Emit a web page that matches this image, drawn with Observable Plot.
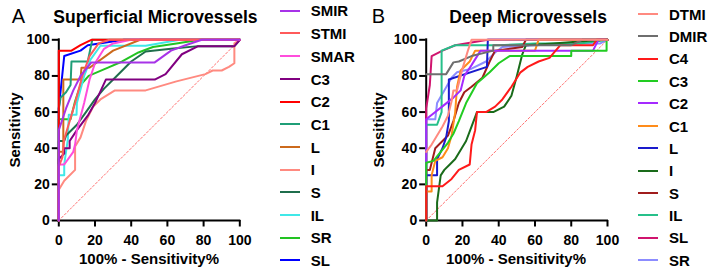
<!DOCTYPE html>
<html><head><meta charset="utf-8">
<script src="https://cdn.jsdelivr.net/npm/d3@7"></script>
<script src="https://cdn.jsdelivr.net/npm/@observablehq/plot@0.6"></script>
<style>
body{margin:0;background:#fff;font-family:"Liberation Sans",Arial,sans-serif;color:#000;}
#root{position:relative;width:708px;height:273px;overflow:hidden;background:#fff;}
.abs{position:absolute;white-space:nowrap;line-height:1;}
.letter{font-size:20px;}
.title{font-size:17.5px;font-weight:bold;}
.xlab{font-size:15px;font-weight:bold;transform:translateX(-50%);}
.ylab{font-size:15px;font-weight:bold;transform:translate(-50%,-50%) rotate(-90deg);}
.leg{font-size:15px;font-weight:bold;}
.legline{position:absolute;height:2px;width:20px;}
.panel{position:absolute;top:0;}
</style>
</head><body>
<div id="root"></div>
<script>
// ---------- tick labels ----------
const xTicks = [0, 20, 40, 60, 80, 100];
const yTicks = [0, 20, 40, 60, 80, 100];
const diagonal = [[0, 0], [100, 100]];

// ---------- Panel A: Superficial Microvessels ----------
const legendA = ["SMIR", "STMI", "SMAR", "C3", "C2", "C1", "L", "I", "S", "IL", "SR", "SL"];
const colorsA = ["#a733e8", "#ff5a5a", "#ff4ddc", "#800080", "#ff0000", "#1f9e77", "#cc6a1c", "#ff8a80", "#1f6e4c", "#40e8e8", "#22c322", "#0000ff"];
const A_SMIR = [[0,0],[0,50],[4,62],[8,72],[12,80],[18,87.5],[53,87.5],[62,94],[70,97],[79,100],[100,100]];
const A_STMI = [[0,0],[0,30],[2,35],[3,45],[6,55],[9,65],[13,80],[17,91],[22,98],[28,100],[100,100]];
const A_SMAR = [[0,0],[0,31],[3,31],[8,38],[9,42],[10,50],[14,65],[17,78],[20,87],[25,95],[30,98],[40,100],[100,100]];
const A_C3 = [[0,0],[0,34],[3,37],[3,40],[6,40],[6,44],[10,50],[16,58],[20,65],[26,78],[53,78],[59,81],[68,92],[77,96.5],[97,96.5],[100,100]];
const A_C2 = [[0,0],[0,94],[7,94],[12,97],[18,100],[100,100]];
const A_C1 = [[0,0],[0,62],[1,68],[4,71],[6.5,75],[7,88],[16,88],[18.5,100],[100,100]];
const A_L = [[0,0],[0,38],[2.5,38],[2.5,78],[12,78],[12.5,84.5],[17,84.5],[30,94],[45,100],[100,100]];
const A_I = [[0,0],[0,17],[3,22],[9,28],[9,41],[12,46],[15,55],[19,63],[23,67],[31,72],[48,72],[65,77],[81,81],[85,83],[90,83],[94,85],[97,87],[97,98],[100,100]];
const A_S = [[0,0],[0,44],[3,44],[4,47],[10,53],[15,60],[20,67],[25,73],[32,80],[40,88],[48,93.5],[62,95],[77,96.5],[97,96.5],[100,100]];
const A_IL = [[0,0],[0,25],[3,25],[3,31],[5,45],[5.5,58.5],[9.8,58.5],[10,65],[14,80],[17.5,89],[23,96.7],[48,96.7],[67,100],[100,100]];
const A_SR = [[0,0],[0,56],[6.5,56],[9,66],[12,75],[16.5,80],[27.5,84.7],[35,88],[44,93],[52,96],[65,98],[78,100],[100,100]];
const A_SL = [[0,0],[0,62],[3,91],[12,94],[16,97],[36,100],[100,100]];
const seriesA = [A_SMIR, A_STMI, A_SMAR, A_C3, A_C2, A_C1, A_L, A_I, A_S, A_IL, A_SR, A_SL];

// ---------- Panel B: Deep Microvessels ----------
const legendB = ["DTMI", "DMIR", "C4", "C3", "C2", "C1", "L", "I", "S", "IL", "SL", "SR"];
const colorsB = ["#ff8a80", "#6e6e6e", "#ff1a1a", "#22cc22", "#a52aff", "#ff8c1a", "#1a1acc", "#1a6b1a", "#a01c1c", "#26c08a", "#d0146e", "#8c8cff"];
const B_DTMI = [[0,38],[3,42],[6,47],[9,52],[12,58],[14,66],[15,72],[17,72],[20,84],[23,94],[25,100],[100,100]];
const B_DMIR = [[0,81],[11,81],[15,87.5],[18,88],[25,91],[37,94],[37,97],[80,97],[86,100],[100,100]];
const B_C4 = [[0,0],[0,19],[9,19],[14,23],[18,28],[24,31],[25,42],[27,50],[28,60],[33,60],[38,63],[42,67],[47,74],[52,82],[56,85],[62,88],[68,90],[74,97],[92,97],[94,100],[100,100]];
const B_C3 = [[0,0],[0,32],[4,33],[8,38],[12,43],[15,48],[18,55],[22,65],[28,76],[35,82],[40,87],[46,91],[80,91],[80,94],[99.5,94],[99.5,100],[100,100]];
const B_C2 = [[0,0],[0,56],[5,60],[10,64],[15,68],[19,72],[21,80],[25,86],[30,94],[92,94],[95,100],[100,100]];
const B_C1 = [[0,0],[0,16],[3,16],[3,25],[5,33],[9,35],[12,40],[14,47],[16,60],[17,74],[19,83],[24,88],[27,94],[60,94],[62,100],[100,100]];
const B_L = [[0,0],[0,25],[6,25],[6,34],[9,40],[11,46],[12.5,55],[12.5,78],[33.5,85],[34,100],[100,100]];
const B_I = [[0,0],[6,0],[6,10],[8,25],[10,28],[13,31],[16,34],[19,39],[22,44],[25,52],[28,60],[37,60],[43,63],[47,69],[50,80],[53,92],[55,97],[70,98],[90,99.5],[100,100]];
const B_S = [[0,0],[0,28],[2,28],[5,40],[9,44],[12,47],[15,55],[18,65],[21,71],[25,74],[31,79],[35,88],[38,94],[53,96],[55,100],[100,100]];
const B_IL = [[0,0],[0,53],[6,53],[8.5,60],[8.5,94],[16,97],[40,97],[60,98],[85,98],[100,100]];
const B_SL = [[0,0],[0,62],[2,75],[3,91],[9,94],[16,97],[34,100],[100,100]];
const B_SR = [[0,0],[0,56],[5,56],[6,65],[10,72],[14,79],[17,82],[25,84],[33,88],[38,93],[42,96],[60,97],[80,98],[96,98],[100,100]];
const seriesB = [B_DTMI, B_DMIR, B_C4, B_C3, B_C2, B_C1, B_L, B_I, B_S, B_IL, B_SL, B_SR];

const root = document.getElementById("root");
function addText(cls, text, left, top) {
  const d = document.createElement("div");
  d.className = "abs " + cls;
  d.textContent = text;
  d.style.left = left + "px";
  d.style.top = top + "px";
  root.appendChild(d);
  return d;
}

function makePanel(cfg) {
  const marks = [
    Plot.ruleX([0], {stroke: "#000", strokeWidth: 2, strokeLinecap: "square"}),
    Plot.ruleY([0], {stroke: "#000", strokeWidth: 2, strokeLinecap: "square"}),
    Plot.axisX({ticks: xTicks, tickSize: 6.5, tickPadding: 8, strokeWidth: 2, fontSize: 14, fontWeight: "bold", label: null}),
    Plot.axisY({ticks: yTicks, tickSize: 6.5, tickPadding: 2.5, strokeWidth: 2, fontSize: 14, fontWeight: "bold", label: null}),
    Plot.line(diagonal, {x: d => d[0], y: d => d[1], stroke: "#ff4d4d", strokeWidth: 0.8, strokeDasharray: "2,2"})
  ];
  // first legend entry drawn last (on top)
  for (let i = cfg.series.length - 1; i >= 0; i--) {
    marks.push(Plot.line(cfg.series[i], {x: d => d[0], y: d => d[1], stroke: cfg.colors[i], strokeWidth: 2, strokeLinejoin: "round"}));
  }
  const svg = Plot.plot({
    width: cfg.width, height: 273,
    marginLeft: cfg.ml, marginRight: cfg.mr, marginTop: 39.3, marginBottom: 53,
    x: {domain: [0, 100], label: null},
    y: {domain: [0, 100], label: null},
    style: {fontFamily: "'Liberation Sans', Arial, sans-serif", fontSize: "14px", fontWeight: "bold", color: "#000", background: "transparent", overflow: "visible"},
    marks
  });
  svg.classList.add("panel");
  svg.style.left = cfg.left + "px";
  root.appendChild(svg);

  // texts
  addText("letter", cfg.letter, cfg.letterX, 6.4);
  addText("title", cfg.title, cfg.titleX, 8.5);
  addText("xlab", "100% - Sensitivity%", cfg.xlabX, 250.6);
  addText("ylab", "Sensitivity", cfg.ylabX, 130);
  // legend
  cfg.legend.forEach((name, i) => {
    const yc = cfg.legY0 + cfg.legDy * i;
    const ln = document.createElement("div");
    ln.className = "legline";
    ln.style.left = cfg.legLineX + "px";
    ln.style.top = (yc - 1) + "px";
    ln.style.background = cfg.colors[i];
    root.appendChild(ln);
    addText("leg", name, cfg.legTextX, yc - 7.3);
  });
}

makePanel({
  series: seriesA, colors: colorsA, legend: legendA,
  left: 0, width: 270, ml: 58.3, mr: 30.7,
  letter: "A", letterX: 11.7, title: "Superficial Microvessels", titleX: 53.3,
  xlabX: 149, ylabX: 13.8,
  legY0: 10.7, legDy: 22.7, legLineX: 280, legTextX: 310.7
});
makePanel({
  series: seriesB, colors: colorsB, legend: legendB,
  left: 368, width: 250, ml: 57.7, mr: 11,
  letter: "B", letterX: 371.7, title: "Deep Microvessels", titleX: 449.3,
  xlabX: 516, ylabX: 377.5,
  legY0: 14, legDy: 22.36, legLineX: 638.3, legTextX: 669
});
</script>
</body></html>
